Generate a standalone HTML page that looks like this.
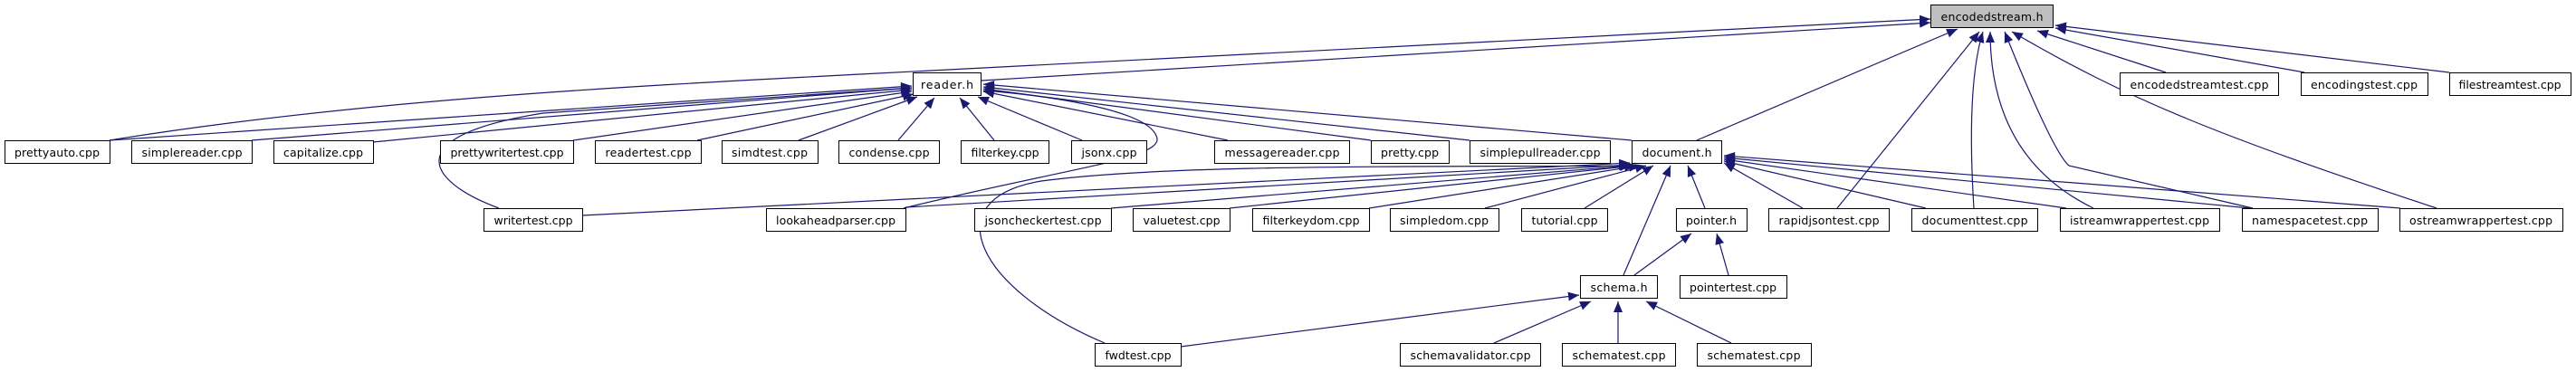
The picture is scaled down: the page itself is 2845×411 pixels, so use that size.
<!DOCTYPE html>
<html><head><meta charset="utf-8"><style>
html,body{margin:0;padding:0;background:#fff;}
svg{display:block;}
text{font-family:"DejaVu Sans","Liberation Sans",sans-serif;font-size:12.5px;fill:#000;}
</style></head><body>
<svg width="2845" height="411" viewBox="0 0 2845 411" xmlns="http://www.w3.org/2000/svg">
<defs>
<marker id="a" markerUnits="userSpaceOnUse" markerWidth="14" markerHeight="12" refX="12" refY="5" orient="auto">
<path d="M0,0 L12,5 L0,10 Z" fill="#191970"/>
</marker>
</defs>
<g fill="none" stroke="#191970" stroke-width="1.2" marker-end="url(#a)">
<!-- to encodedstream.h -->
<path d="M1084,89 L2132,25"/>
<path d="M121,155 C400,110 700,95 950,82 L2132,21"/>
<path d="M1874,155 L2162,32"/>
<path d="M2029,230 L2186,35"/>
<path d="M2180,230 C2175,150 2176,80 2190,35"/>
<path d="M2312,230 C2230,190 2198,120 2198,35"/>
<path d="M2488,230 L2285,183 C2270,170 2240,100 2214,35"/>
<path d="M2691,230 C2450,150 2350,110 2222,35"/>
<path d="M2392,80 L2250,34"/>
<path d="M2545,80 L2270,31"/>
<path d="M2705,80 L2270,28"/>
<!-- to reader.h -->
<path d="M121,155 L1007,95"/>
<path d="M278,155 L1007,97"/>
<path d="M412,157 L1007,99"/>
<path d="M633,155 L1007,101"/>
<path d="M770,155 L1009,104"/>
<path d="M882,155 L1013,107"/>
<path d="M992,155 L1032,108"/>
<path d="M1098,155 L1060,108"/>
<path d="M1195,155 L1080,107"/>
<path d="M1356,155 L1086,101"/>
<path d="M1514,155 L1086,98"/>
<path d="M1623,155 L1086,96"/>
<path d="M1802,155 L1086,93"/>
<path d="M998,230 C1180,185 1290,175 1277,150 C1265,120 1150,105 1086,100"/>
<path d="M551,230 C470,200 440,150 600,125 L1007,97"/>
<!-- to document.h -->
<path d="M643,238 L1800,180"/>
<path d="M1000,229 L1800,182"/>
<path d="M1220,379 C1080,320 1030,220 1150,200 C1300,180 1600,185 1800,183"/>
<path d="M1227,230 L1801,183"/>
<path d="M1358,230 L1806,183"/>
<path d="M1512,230 L1811,183"/>
<path d="M1640,230 L1818,183"/>
<path d="M1750,230 L1826,183"/>
<path d="M1883,230 L1864,183"/>
<path d="M1793,304 L1845,183"/>
<path d="M1991,230 L1904,180"/>
<path d="M2127,230 L1904,178"/>
<path d="M2282,230 L1904,176"/>
<path d="M2485,230 L1904,174"/>
<path d="M2651,230 L1904,172"/>
<!-- pointer.h -->
<path d="M1805,304 L1868,258"/>
<path d="M1909,304 L1896,258"/>
<!-- schema.h -->
<path d="M1304,383 L1744,326"/>
<path d="M1650,379 L1757,333"/>
<path d="M1787,379 L1787,333"/>
<path d="M1912,379 L1818,333"/>
</g>
<g stroke="#000" stroke-width="1">
<rect x="2132.5" y="5.5" width="135" height="25" fill="#bfbfbf"/>
</g>
<g stroke="#000" stroke-width="1" fill="#fff">
<rect x="1008.5" y="80.5" width="75" height="25"/>
<rect x="2341.5" y="80.5" width="175" height="25"/>
<rect x="2541.5" y="80.5" width="140" height="25"/>
<rect x="2705.5" y="80.5" width="134" height="25"/>
<rect x="5.5" y="155.5" width="116" height="25"/>
<rect x="145.5" y="155.5" width="133" height="25"/>
<rect x="302.5" y="155.5" width="110" height="25"/>
<rect x="486.5" y="155.5" width="147" height="25"/>
<rect x="657.5" y="155.5" width="117" height="25"/>
<rect x="797.5" y="155.5" width="106" height="25"/>
<rect x="926.5" y="155.5" width="111" height="25"/>
<rect x="1061.5" y="155.5" width="97" height="25"/>
<rect x="1183.5" y="155.5" width="83" height="25"/>
<rect x="1341.5" y="155.5" width="149" height="25"/>
<rect x="1514.5" y="155.5" width="86" height="25"/>
<rect x="1623.5" y="155.5" width="155" height="25"/>
<rect x="1802.5" y="155.5" width="99" height="25"/>
<rect x="534.5" y="230.5" width="109" height="25"/>
<rect x="846.5" y="230.5" width="154" height="25"/>
<rect x="1076.5" y="230.5" width="151" height="25"/>
<rect x="1251.5" y="230.5" width="107" height="25"/>
<rect x="1383.5" y="230.5" width="129" height="25"/>
<rect x="1535.5" y="230.5" width="120" height="25"/>
<rect x="1680.5" y="230.5" width="95" height="25"/>
<rect x="1851.5" y="230.5" width="78" height="25"/>
<rect x="1953.5" y="230.5" width="133" height="25"/>
<rect x="2111.5" y="230.5" width="139" height="25"/>
<rect x="2275.5" y="230.5" width="176" height="25"/>
<rect x="2476.5" y="230.5" width="150" height="25"/>
<rect x="2650.5" y="230.5" width="180" height="25"/>
<rect x="1745.5" y="304.5" width="85" height="25"/>
<rect x="1855.5" y="304.5" width="118" height="25"/>
<rect x="1209.5" y="379.5" width="95" height="25"/>
<rect x="1546.5" y="379.5" width="155" height="25"/>
<rect x="1725.5" y="379.5" width="125" height="25"/>
<rect x="1874.5" y="379.5" width="126" height="25"/>
</g>
<g text-anchor="middle">
<text x="2200" y="23" textLength="113">encodedstream.h</text>
<text x="1046" y="98" textLength="58">reader.h</text>
<text x="2429" y="98" textLength="153">encodedstreamtest.cpp</text>
<text x="2611" y="98" textLength="118">encodingstest.cpp</text>
<text x="2772" y="98" textLength="113">filestreamtest.cpp</text>
<text x="63" y="173" textLength="94">prettyauto.cpp</text>
<text x="212" y="173" textLength="111">simplereader.cpp</text>
<text x="357" y="173" textLength="88">capitalize.cpp</text>
<text x="560" y="173" textLength="125">prettywritertest.cpp</text>
<text x="716" y="173" textLength="95">readertest.cpp</text>
<text x="850" y="173" textLength="84">simdtest.cpp</text>
<text x="982" y="173" textLength="89">condense.cpp</text>
<text x="1110" y="173" textLength="75">filterkey.cpp</text>
<text x="1225" y="173" textLength="61">jsonx.cpp</text>
<text x="1416" y="173" textLength="127">messagereader.cpp</text>
<text x="1557" y="173" textLength="64">pretty.cpp</text>
<text x="1701" y="173" textLength="133">simplepullreader.cpp</text>
<text x="1852" y="173" textLength="77">document.h</text>
<text x="589" y="248" textLength="87">writertest.cpp</text>
<text x="923" y="248" textLength="132">lookaheadparser.cpp</text>
<text x="1152" y="248" textLength="129">jsoncheckertest.cpp</text>
<text x="1305" y="248" textLength="85">valuetest.cpp</text>
<text x="1448" y="248" textLength="107">filterkeydom.cpp</text>
<text x="1595" y="248" textLength="98">simpledom.cpp</text>
<text x="1728" y="248" textLength="73">tutorial.cpp</text>
<text x="1890" y="248" textLength="56">pointer.h</text>
<text x="2020" y="248" textLength="111">rapidjsontest.cpp</text>
<text x="2181" y="248" textLength="117">documenttest.cpp</text>
<text x="2363" y="248" textLength="154">istreamwrappertest.cpp</text>
<text x="2551" y="248" textLength="128">namespacetest.cpp</text>
<text x="2740" y="248" textLength="158">ostreamwrappertest.cpp</text>
<text x="1788" y="322" textLength="63">schema.h</text>
<text x="1914" y="322" textLength="96">pointertest.cpp</text>
<text x="1257" y="397" textLength="73">fwdtest.cpp</text>
<text x="1624" y="397" textLength="133">schemavalidator.cpp</text>
<text x="1788" y="397" textLength="103">schematest.cpp</text>
<text x="1937" y="397" textLength="103">schematest.cpp</text>
</g>
</svg>
</body></html>
